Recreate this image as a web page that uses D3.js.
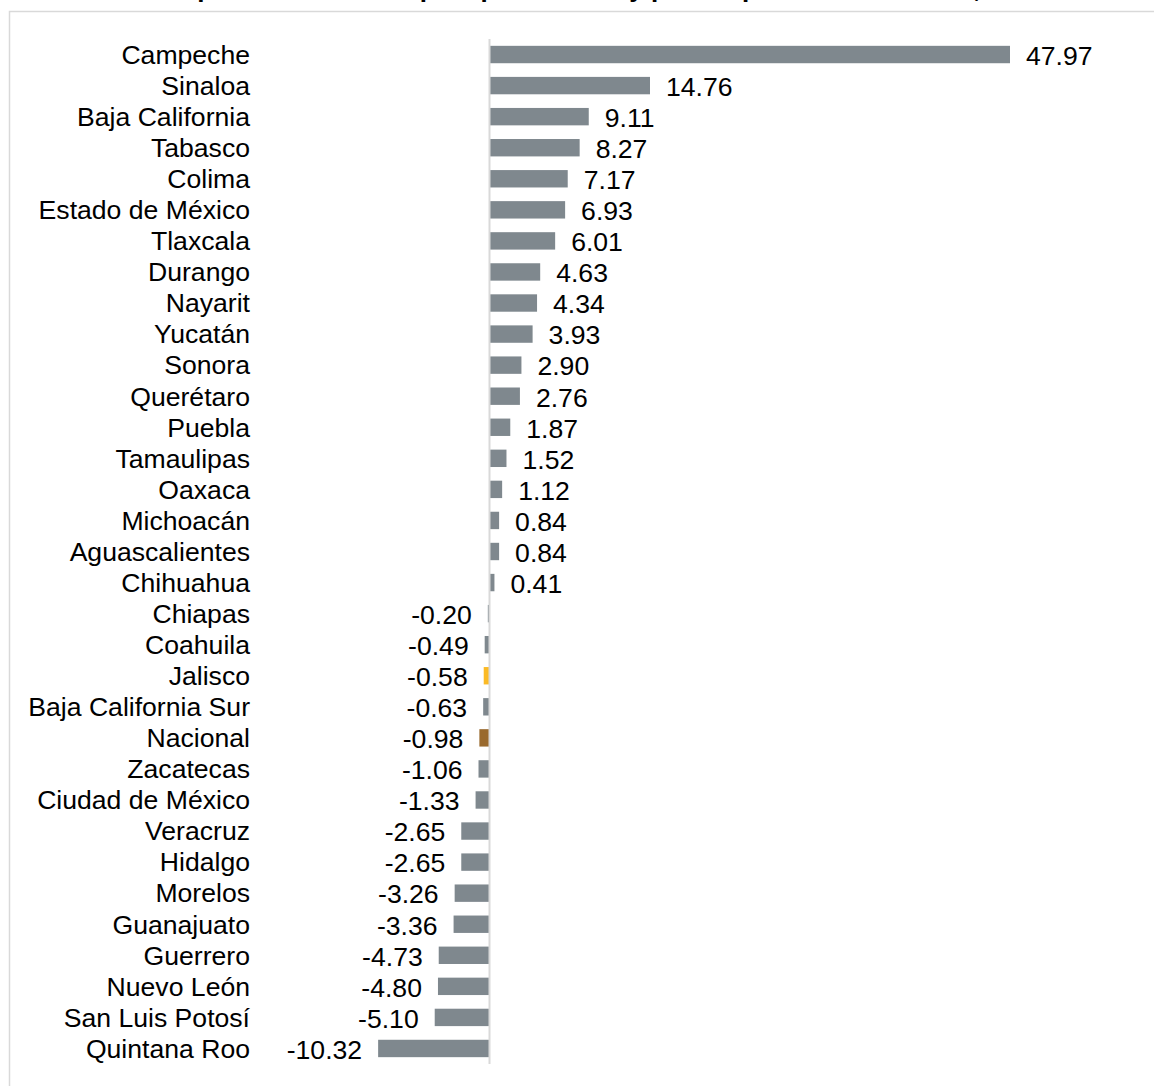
<!DOCTYPE html>
<html>
<head>
<meta charset="utf-8">
<script src="https://cdn.jsdelivr.net/npm/d3@7"></script>
<style>
  html, body { margin: 0; padding: 0; background: #fff; overflow: hidden; }
  svg { display: block; }
</style>
</head>
<body>
<svg id="chart" width="1154" height="1086"></svg>
<script>
const categories = ["Campeche","Sinaloa","Baja California","Tabasco","Colima","Estado de México","Tlaxcala","Durango","Nayarit","Yucatán","Sonora","Querétaro","Puebla","Tamaulipas","Oaxaca","Michoacán","Aguascalientes","Chihuahua","Chiapas","Coahuila","Jalisco","Baja California Sur","Nacional","Zacatecas","Ciudad de México","Veracruz","Hidalgo","Morelos","Guanajuato","Guerrero","Nuevo León","San Luis Potosí","Quintana Roo"];
const values = [47.97,14.76,9.11,8.27,7.17,6.93,6.01,4.63,4.34,3.93,2.90,2.76,1.87,1.52,1.12,0.84,0.84,0.41,-0.20,-0.49,-0.58,-0.63,-0.98,-1.06,-1.33,-2.65,-2.65,-3.26,-3.36,-4.73,-4.80,-5.10,-10.32];
const highlight = {"Jalisco": "#FBBA25", "Nacional": "#99692D"};
const titleText = "Variación porcentual del empleo por entidad y para el promedio nacional, 2024";

const data = categories.map((c, i) => ({cat: c, val: values[i]}));
const svg = d3.select("#chart");
const font = "'Liberation Sans', Arial, sans-serif";
const fs = 26.6;

// chart area border
svg.append("rect")
  .attr("x", 9.5).attr("y", 11.5)
  .attr("width", 1160).attr("height", 1100)
  .attr("fill", "none").attr("stroke", "#d9d9d9").attr("stroke-width", 1.5);

// title (cut off at the top edge, as in the reference)
svg.append("text")
  .attr("x", 560).attr("y", -3)
  .attr("text-anchor", "middle")
  .attr("font-family", font).attr("font-weight", "bold").attr("font-size", 26)
  .attr("fill", "#000")
  .text(titleText);

const x = d3.scaleLinear().domain([0, 47.97]).range([490, 1010]);
const y = d3.scaleBand().domain(categories).range([39, 1064]).paddingInner(0.44).paddingOuter(0.22);

// bars
svg.append("g").selectAll("rect").data(data).join("rect")
  .attr("x", d => Math.min(x(0), x(d.val)))
  .attr("y", d => y(d.cat))
  .attr("width", d => Math.abs(x(d.val) - x(0)))
  .attr("height", y.bandwidth())
  .attr("fill", d => highlight[d.cat] || "#7F888E");

// zero axis line
svg.append("line")
  .attr("x1", x(0) - 0.5).attr("x2", x(0) - 0.5)
  .attr("y1", 39).attr("y2", 1064)
  .attr("stroke", "#d9d9d9").attr("stroke-width", 2);

// category labels
svg.append("g").selectAll("text").data(data).join("text")
  .attr("x", 250)
  .attr("y", d => y(d.cat) + y.bandwidth() / 2)
  .attr("dy", "0.35em")
  .attr("text-anchor", "end")
  .attr("font-family", font).attr("font-size", fs)
  .attr("fill", "#000")
  .text(d => d.cat);

// value labels
const fmt = d3.format(".2f");
svg.append("g").selectAll("text").data(data).join("text")
  .attr("x", d => d.val >= 0 ? x(d.val) + 16 : x(d.val) - 16)
  .attr("y", d => y(d.cat) + y.bandwidth() / 2 + 1)
  .attr("dy", "0.35em")
  .attr("text-anchor", d => d.val >= 0 ? "start" : "end")
  .attr("font-family", font).attr("font-size", fs)
  .attr("fill", "#000")
  .text(d => fmt(d.val).replace("\u2212", "-"));
</script>
</body>
</html>
